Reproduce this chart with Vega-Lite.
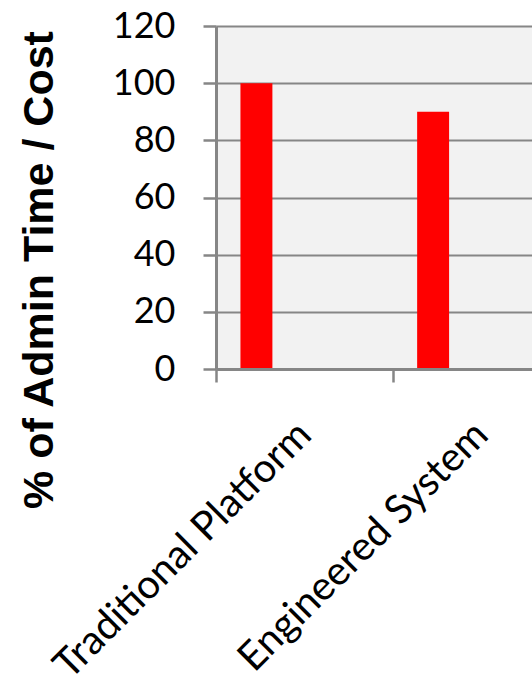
{
  "$schema": "https://vega.github.io/schema/vega-lite/v6.json",
  "autosize": {"type": "none"},
  "padding": {"left": 216, "top": 26, "right": 0, "bottom": 315},
  "width": 316,
  "height": 343,
  "background": "white",
  "config": {
    "view": {"fill": "#f2f2f2", "stroke": null}
  },
  "data": {
    "values": [
      {"platform": "Traditional Platform", "series": "s1", "value": 100},
      {"platform": "Engineered System", "series": "s1", "value": 90}
    ]
  },
  "mark": {"type": "bar", "color": "#ff0000"},
  "encoding": {
    "x": {
      "field": "platform",
      "type": "nominal",
      "sort": null,
      "scale": {"domain": ["Traditional Platform", "Engineered System"], "range": [0, 353.4], "paddingInner": 0, "paddingOuter": 0},
      "axis": {
        "title": null,
        "tickBand": "extent",
        "labelAngle": -45,
        "labelFont": "Lato",
        "labelFontSize": 40,
        "labelColor": "#000000",
        "labelLimit": 0,
        "labelPadding": 32,
        "labelOffset": -14,
        "tickSize": 13,
        "tickWidth": 2.5,
        "tickColor": "#868686",
        "domainColor": "#868686",
        "domainWidth": 3,
        "grid": false,
        "zindex": 1
      }
    },
    "xOffset": {
      "field": "series",
      "type": "nominal",
      "scale": {"domain": ["s1", "s2", "s3", "s4"], "paddingInner": 0, "paddingOuter": 0.765}
    },
    "y": {
      "field": "value",
      "type": "quantitative",
      "scale": {"domain": [0, 120], "nice": false},
      "axis": {
        "title": "% of Admin Time / Cost",
        "titleFont": "Liberation Sans",
        "titleFontWeight": "bold",
        "titleFontSize": 43,
        "titleColor": "#000000",
        "titleAngle": -90,
        "titleBaseline": "alphabetic",
        "titleAlign": "center",
        "titleX": -164,
        "titleY": 243.5,
        "values": [0, 20, 40, 60, 80, 100, 120],
        "labelFont": "Lato",
        "labelFontSize": 36,
        "labelColor": "#000000",
        "labelPadding": 28,
        "tickSize": 13,
        "tickWidth": 2.5,
        "tickColor": "#868686",
        "domainColor": "#868686",
        "domainWidth": 3,
        "grid": true,
        "gridColor": "#868686",
        "gridWidth": 2
      }
    }
  }
}
